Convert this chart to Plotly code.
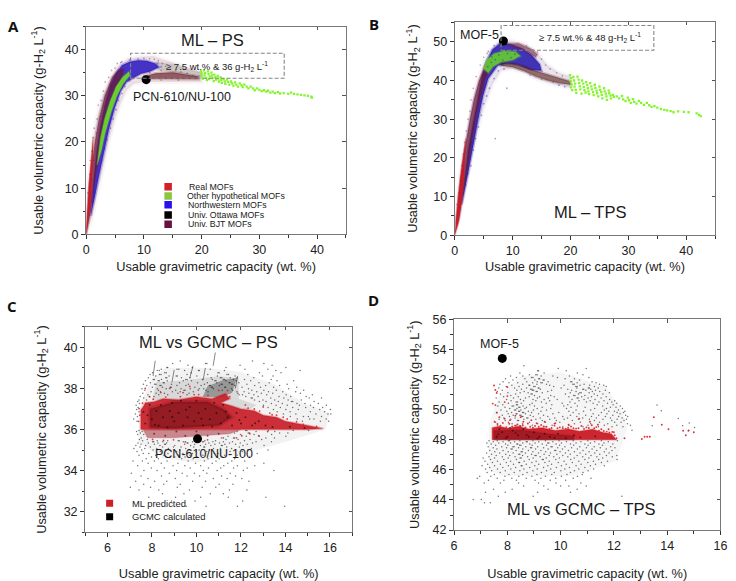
import plotly.graph_objects as go

W, H = 736, 581
# ---------- panel A: band outlines (wt.%, g/L)
a_halo = [(0,0),(0.1,5),(0.3,10),(0.7,15),(1.1,20),(1.8,25),(2.8,30),(4.2,34),(5.6,36.6),(7.2,38),(9,38.4),(11.5,38.6),(14,37.6),(17,36.3),(20,35.2),(20,33),(14,33.1),(10,33),(8.2,32.6),(7,31.2),(6,28.5),(5,25),(4,20.5),(3,15),(2,9.5),(1.1,4),(0,0)]
a_maroon = [(0,0),(0.2,4),(0.5,10),(1,15),(1.5,20),(2.2,25),(3.2,30),(4.5,34),(5.6,35.6),(6.5,35.8),(6.2,34),(5.4,32),(4.4,29),(3.5,25),(2.8,21),(2.1,16),(1.4,11),(0.8,5),(0,0)]
a_blue = [(0.8,4),(1.1,9),(1.4,13),(1.8,18),(2.4,23),(3.2,28),(4.2,32.4),(5.2,35),(6.2,36.6),(7.5,37.4),(9,37.7),(10.5,37.6),(12,37),(12.6,36.2),(11,35.2),(9.5,34.8),(8.3,33.9),(7,33),(6,31),(5,27.5),(4,23),(3,17.5),(2.2,12.5),(1.5,8)]
a_green = [(1.9,15),(2.5,21),(3.2,25),(4.2,29),(5.2,32),(6.3,34),(7.4,35.2),(7.6,34.5),(6.4,32.6),(5.3,29.9),(4.3,26.4),(3.3,22),(2.6,18)]
a_red = [(0,0),(0.2,5),(0.5,11),(0.85,16),(1.2,21),(1.15,16),(1,12),(0.7,6),(0,0)]
a_tail_dark = [(10,34.2),(12,34.9),(15,35.1),(17,34.7),(19.5,34.2),(19.5,33.6),(15,33.6),(11,33.7),(9.5,33.7)]
a_top_grey = [(12,37.4),(15,36.8),(18,35.6),(20,35),(20,34),(16,35),(12.5,35.6)]
a_green_tail = [(19.9,35.3),(20.1,34.8),(20.0,34.2),(20.2,33.7),(20.4,35.5),(20.6,34.9),(20.5,34.4),(20.8,33.9),(20.9,33.4),(21.1,35.3),(21.2,34.7),(21.4,34.2),(21.3,33.6),(21.7,35.0),(21.8,34.4),(21.9,33.8),(22.1,33.2),(22.2,34.6),(22.4,34.1),(22.5,33.5),(22.8,34.3),(22.9,33.7),(23.0,33.1),(23.3,34.0),(23.4,33.4),(23.5,32.8),(23.8,33.6),(24.0,33.1),(24.1,32.6),(24.4,33.5),(24.6,33.0),(24.8,32.4),(25.1,33.1),(25.3,32.7),(25.5,32.2),(25.8,32.9),(26.0,32.4),(26.3,32.0),(26.6,32.7),(26.9,32.3),(27.1,31.9),(27.4,32.4),(27.8,32.0),(28.1,31.6),(28.5,32.0),(28.9,31.6),(29.2,31.2),(29.6,31.6),(30.0,31.3),(30.4,31.0),(30.8,31.2),(31.2,30.9),(31.5,31.1),(31.9,30.7),(32.3,30.9),(32.7,30.6),(33.2,30.8),(33.6,30.5),(34.2,30.6),(35.0,30.4),(35.5,30.7),(36.0,30.4),(36.6,30.3),(37.2,30.2),(37.8,30.1),(38.4,30.0),(39.0,29.8),(39.1,29.6)]
a_maroon_dots = [(0.3,9),(0.6,13),(0.7,16),(1,18),(1.2,21),(1.4,23),(1.9,25),(2.1,28),(2.6,29),(3,31),(3.3,33),(3.9,34),(4.4,35.5),(5,36),(5.4,37),(6.2,37.4),(11,38),(11.8,37.9),(12.5,37.6),(13.2,37),(13.8,36.4),(14.6,35.8),(15.5,35.5),(16.4,35.2),(17.5,34.9),(18.5,34.4),(13,35.5),(11,35),(10,34.4),(16,33.4),(13,33.4),(1.8,22),(2.5,25.5),(1.3,16),(0.9,12)]
a_blue_dots = [(1.5,9),(1.9,12),(2.3,14),(2.7,16),(3.2,18.5),(3.6,20.5),(4.2,23),(4.7,25),(5.2,27),(5.6,29),(6.2,30.5),(6.7,32),(1.2,7),(7.5,33.2),(6,37.2),(7.5,37.8),(9,38),(10,38.1),(12.4,37),(13,36.3)]

# ---------- panel B
b_halo = [(0,0),(0.2,5),(0.5,10),(0.9,15),(1.3,20),(1.9,25),(2.5,30),(3.1,35),(4,40),(5,44.5),(6.2,48),(7.8,50.5),(10,50.2),(12,49.5),(14,47.5),(16,44),(18,42),(20,41),(20,38),(17,39),(14,40.5),(12,42),(10,43),(8,42.6),(6.5,39),(5,33),(4,27.5),(3,20.5),(2,13),(1.2,7),(0.5,3),(0,0)]
b_maroon = [(0.2,3),(0.6,10),(1,15),(1.45,20),(2,25),(2.6,30),(3.3,35),(4.2,40),(5.3,44),(6.3,46),(6,43.5),(5.2,40),(4.3,35),(3.6,30),(2.9,24),(2.1,17),(1.3,10),(0.7,4)]
b_blue = [(1.2,8),(1.8,16),(2.3,22),(2.9,27),(3.5,32),(4.1,37),(4.7,41),(5.5,45),(6.5,48),(7.8,49.6),(9.5,49.4),(11.5,48.4),(13.3,46.6),(14.7,44.2),(15,42.5),(13,42.8),(11,44),(9,44.4),(7.4,43.8),(5.8,40.5),(4.9,36),(4,29.5),(3,21),(2.3,16)]
b_green = [(5,43),(5.6,45.4),(6.8,46.9),(8.5,47.6),(10.5,47.4),(11.3,46.3),(10,45.3),(8,44.8),(6.6,43.6),(5.8,42)]
b_brown = [(10,44.4),(12,43.7),(14,42.5),(16,41.6),(18,40.7),(20,39.8),(20,38.9),(18,39.3),(16,40),(14,41),(12,42.4),(10,43.4),(8,43.8),(8,44.6)]
b_streak = [(9,49.5),(11,49.6),(13,48.3),(14.3,46.8),(14,46),(12,47.8),(10,48.7)]
b_red = [(0,0),(0.25,5),(0.6,10),(1,15),(1.35,19),(1.9,25),(1.7,19),(1.5,14),(1.1,8),(0.6,3),(0,0)]
b_green_tail = [(19.9,41.4),(20.1,40.6),(20.0,39.8),(20.2,39),(20.1,38.2),(20.3,37.5),(20.5,40.9),(20.6,40),(20.8,39.2),(20.7,38.4),(20.9,37.6),(21,36.8),(21.2,41),(21.4,40.2),(21.5,39.3),(21.6,38.5),(21.7,37.7),(21.9,36.6),(22,40),(22.2,39.2),(22.3,38.3),(22.4,37.5),(22.6,36.9),(22.7,39.6),(22.9,38.8),(23,38),(23.1,37.2),(23.2,36.5),(23.4,39.3),(23.6,38.5),(23.7,37.7),(23.9,37),(24,36.2),(24.2,38.9),(24.3,38.1),(24.5,37.4),(24.6,36.7),(24.8,35.9),(25,38.4),(25.1,37.6),(25.3,37),(25.4,36.3),(25.5,35.4),(25.8,38),(25.9,37.2),(26.1,36.6),(26.2,35.9),(26.3,35),(26.6,37.4),(26.7,36.7),(26.9,36.1),(27,35.4),(27.3,36.3),(27.5,35.8),(28,35.9),(28.4,35.4),(28.9,36),(29.1,35.1),(29.5,34.7),(29.9,35.6),(30.1,34.9),(30.4,34.2),(30.8,35.2),(31,34.5),(31.4,34),(31.8,34.7),(32.2,34.2),(32.7,33.7),(33.2,34.2),(33.6,33.6),(34,33.2),(34.5,33.4),(35,33),(35.6,32.6),(36.2,32.4),(36.7,32.3),(37.3,32.1),(37.8,31.8),(38.6,32),(39.6,31.9),(40.4,31.8),(41.8,31.5),(42.2,31.1),(42.5,30.8)]
b_maroon_dots = [(0.4,8),(0.7,11),(1,14),(1.2,18),(1.5,21),(1.7,24),(2,27),(2.3,30),(2.6,32),(2.8,35),(3.2,38),(3.7,41),(4.4,44),(5,46),(5.6,47),(12.4,49),(13.5,48),(14.3,47.4),(15,45.5),(15.7,44),(16.5,43),(17.6,42),(18.6,41.2),(13,41.4),(15,40.3),(17,39.6)]
b_blue_dots = [(1.9,13),(2.3,16),(2.8,18),(3.2,22),(3.6,25),(4.1,28),(4.6,31),(5,34),(5.5,36),(6,38),(6.8,40.5),(7.5,42.5),(8.5,43),(9,50.6),(6.8,49),(5.8,47.5),(19,38.4),(18,38.8),(7,25),(9,38),(5.7,43.6),(6.3,44.7),(7,45.4),(7.6,46.6),(8.3,45.2),(9.1,47),(9.7,45.9),(10.4,46.8),(10.9,45.7),(6.4,46.1)]

# ---------- panel C (clumpy cloud, y then x values at that y)
c_haze = [(7.4,35.4),(7.4,37),(8,38.5),(8.6,39),(10.5,39),(12,38.8),(13.5,38.2),(14.8,37.3),(16,36.8),(15.8,36),(14,35.4),(12,34.8),(10,34.4),(8.5,34.6)]
c_dense = [(8,37.4),(8.2,38.3),(9.5,38.4),(11,38.6),(11.9,38.5),(11.9,37.5),(12.7,37.2),(12,36.7),(9,37.4)]
c_clump = [(10.3,37.6),(10.5,38.1),(11.2,38.4),(11.8,38.5),(11.6,37.8),(11.2,37.6)]
c_red = [(7.5,36),(7.5,36.95),(7.6,37.1),(7.7,37.3),(8.1,37.35),(8.5,37.5),(9.2,37.45),(10,37.6),(10.7,37.5),(11.3,37.75),(11.5,37.5),(11.1,37.3),(11.6,37.15),(12,37),(12.6,36.92),(13,36.7),(13.6,36.6),(14,36.4),(15,36.2),(15.7,36.05),(15,36),(12,36),(7.5,36)]
c_red_low = [(7.6,36),(12,36),(11.5,35.8),(9,35.6),(7.8,35.6)]
c_dark = [(7.9,36.1),(7.9,37),(9,37.35),(10.5,37.35),(11.2,37),(11.6,36.6),(11,36.2),(9,36.05)]
c_streaks_x = [8.05,8.15,None,10.75,10.85,None,11.75,11.85,None,8.9,9,None,9.7,9.85,None,10.3,10.4]
c_streaks_y = [38.6,39.35,None,39.1,39.75,None,38,38.6,None,38.3,38.9,None,38.5,39.1,None,38.4,39]
c_rows = {
 39.34:[9.27,12.52], 39.21:[8.93,10.41,10.47,13.03], 39.13:[9.62,11.96,13.4], 39.02:[8.67,8.71,9.81,11.33,14.02], 38.93:[8.42,9.13,9.21,10.62,12.18,13.21],
 38.87:[8.24,8.33,9.47,10.09,10.13,11.26,13.57,14.66], 38.76:[8.03,8.58,8.64,9.76,10.97,11.02,12.83,13.8], 38.68:[7.92,8.34,8.41,9.58,10.51,11.37,11.44,12.31],
 38.61:[8.17,8.77,9.09,9.14,10.02,10.94,11.74,12.97,13.44], 38.52:[7.84,8.62,8.67,9.33,9.71,10.66,11.08,11.14,11.52,11.83,12.58], 38.44:[8.06,8.11,8.43,9.52,9.58,10.27,10.71,11.21,11.27,11.66,12.16,13.36],
 38.37:[7.71,8.28,8.33,8.69,9.41,9.78,10.83,10.88,11.33,11.79,12.44,13.62,14.37], 38.28:[7.93,8.51,8.55,9.24,10.05,10.49,10.92,11.47,11.51,11.91,12.81,13.27],
 38.21:[7.62,8.12,8.18,8.88,9.64,10.36,11.11,11.16,11.58,11.63,12.27,14.08], 38.14:[7.77,8.36,8.41,9.12,9.53,10.21,10.58,10.63,11.03,11.72,12.62,13.11,13.74],
 38.06:[8.02,8.47,8.83,8.87,9.93,10.67,10.72,11.27,11.31,12.05,12.88,13.47,14.51], 37.98:[7.55,8.24,8.64,9.31,9.72,10.12,10.33,10.76,11.58,12.34,14.15],
 37.91:[7.68,8.29,9.07,9.44,9.49,10.08,10.43,11.16,11.63,12.49,13.03,13.59,14.82], 37.84:[7.96,8.38,8.92,9.27,9.86,10.52,11.82,12.14,12.71,13.24,13.88,14.46],
 37.77:[7.59,8.19,8.56,9.17,9.67,11.86,12.36,12.92,13.43,14.67], 37.69:[7.82,8.31,8.71,9.58,11.92,12.07,12.58,13.16,14.03,15.21], 37.61:[7.47,7.88,8.09,12.22,12.77,13.71,14.24,14.93],
 37.53:[7.63,12.46,12.51,13.34,13.93,15.07,15.62], 37.44:[7.42,7.76,12.61,12.99,13.52,14.12,14.71], 37.36:[7.36,12.83,13.13,13.68,14.27,14.33,15.29],
 37.27:[7.44,13.37,13.86,14.52,14.88,15.48], 37.18:[7.29,13.01,13.58,14.08,14.63,15.13,15.84], 37.07:[7.38,13.22,13.77,14.33,14.91,15.26,15.67], 36.98:[7.31,13.46,14.02,14.58,15.54,16.02],
 36.87:[7.42,13.63,14.21,15.12,15.76], 36.76:[7.26,13.91,14.47,15.37,15.91,16.04], 36.64:[7.35,14.22,14.81,15.03,15.62], 36.52:[7.18,14.53,15.09,15.28,15.83], 36.41:[7.33,14.76,15.57,15.94],
 35.96:[7.42,12.21,12.27,13.23,14.35,15.04], 35.91:[7.31,7.56,11.83,12.68,13.52], 35.83:[7.48,11.71,12.33,12.38,13.74,14.11], 35.76:[7.36,7.63,11.98,12.59,13.38],
 35.68:[11.42,12.24,12.82,14.02], 35.59:[7.52,11.12,11.67,11.71,13.12,13.51], 35.52:[7.44,7.79,11.33,11.87,12.41,12.93], 35.46:[7.58,8.24,8.71,9.18,9.23,10.38,10.86,12.16],
 35.41:[8.03,8.08,8.49,9.41,9.83,10.27,10.32,10.74,11.21,11.62,12.68,13.37], 35.35:[7.37,7.84,8.27,8.66,9.58,9.62,10.56,11.04,11.49,11.97,12.52], 35.28:[7.51,8.11,8.57,8.61,9.47,9.92,10.41,10.83,11.28,11.76,12.28],
 35.22:[7.28,7.72,8.36,9.03,9.74,10.18,10.65,11.12,11.16,12.09,13.04], 35.15:[7.46,7.93,8.48,8.97,9.31,9.88,10.33,10.37,11.36,11.93], 35.08:[7.19,7.68,8.22,8.74,9.52,10.77,11.08,11.58,12.47],
 35.01:[7.54,8.05,8.61,9.26,9.67,10.12,10.59,12.31,13.22], 34.93:[7.33,8.38,8.87,9.11,9.99,10.46,11.51,12.06], 34.84:[7.61,7.86,8.72,9.39,9.82,10.81,10.97,12.73], 34.75:[7.42,8.17,8.54,9.22,9.71,10.29,11.27,11.83],
 34.66:[7.98,8.83,9.03,9.49,10.04,10.68,11.16,12.38], 34.58:[7.74,8.29,9.34,9.86,10.52,11.02,11.72], 34.47:[7.15,7.57,8.11,8.68,9.63,10.36,10.88,11.59,12.17], 34.36:[7.83,8.42,9.17,9.96,10.71,11.41,13.03],
 34.24:[7.36,8.95,9.48,10.19,11.23,11.84,12.62], 34.13:[7.97,8.56,9.72,10.54,11.09,11.67,12.28], 34.01:[7.64,8.23,9.11,10.31,10.93,12.11,13.48], 33.88:[7.08,8.78,9.36,9.91,10.47,11.52], 33.74:[7.51,8.43,9.58,10.14,11.13,11.76],
 33.62:[7.82,9.05,10.76,11.38,12.04], 33.48:[7.27,8.12,8.67,9.83,10.41,12.36], 33.34:[7.63,8.53,9.27,11.02,11.64], 33.19:[7.03,7.94,9.14,10.26,10.87], 33.06:[7.42,8.31,9.69,11.48,12.27],
 32.88:[8.47,9.44,10.62,11.21], 32.71:[7.86,9.06,10.19,11.43,13.12], 32.53:[8.88,9.94,12.08], 32.27:[9.54,10.43,11.84,13.97],
}
c_black_on_red = [(7.7,36.3),(7.8,36.7),(8,36.5),(8.2,36.9),(8.3,36.2),(8.4,37.2),(8.5,36.6),(8.7,36.1),(8.8,36.9),(8.9,37.3),(9,36.4),(9.2,36.8),(9.3,37.4),(9.4,36.2),(9.6,36.6),(9.7,37.1),(9.9,36.4),(10,37.4),(10.1,36.8),(10.3,36.2),(10.4,37),(10.6,36.5),(10.8,37.3),(10.9,36.8),(11.1,36.3),(11.2,37.2),(11.4,36.6),(11.6,36.2),(11.8,36.8),(12,36.3),(12.2,36.6),(12.5,36.2),(12.8,36.4),(13.1,36.2),(7.9,37.2),(8.1,35.8),(8.6,35.7),(9.1,35.9),(9.5,35.7),(10,35.9),(10.5,35.7),(11,35.8),(7.62,36.86),(8.13,36.24),(8.91,36.61),(9.53,36.97),(10.22,36.53),(10.71,36.14),(11.32,36.88),(11.93,36.47),(12.64,36.31),(13.42,36.13),(14.2,36.14),(14.86,36.08)]
c_red_dots = [(7.7,38),(7.9,37.6),(8.4,37.8),(8.8,38),(9.4,37.8),(9.7,38.1),(10.1,37.7),(11,37.9),(11.4,37.9),(11.5,37.6),(12.2,37.2),(12.6,37),(13,37.1),(13.3,36.8),(13.6,36.7),(13.9,36.6),(14.3,36.3),(12.4,35.8),(12.8,35.7),(13.2,35.9),(9.5,35.4),(10.5,35.5),(7.4,36.4),(11.8,35.6),(14.8,36.25),(15.4,36.15),(8.03,35.52),(8.52,35.47),(8.97,35.5),(11.21,35.6),(9.92,35.45),(12.04,35.7),(7.46,36.7),(7.42,37.02),(7.58,37.28),(8.06,37.48),(8.62,37.58),(9.28,37.6),(9.9,37.7),(10.52,37.66),(12.32,37.04),(12.84,36.9),(13.4,36.72),(14.08,36.52),(14.5,36.38)]

# ---------- panel D
d_haze = [(7.3,46),(7.3,49),(7.7,51),(8.5,52.2),(10,52.5),(11.7,51.5),(12.3,50),(12.5,48.8),(12.1,46.6),(10.5,45.6),(9,45.6),(7.8,45.6)]
d_red = [(7.43,48),(7.43,48.8),(7.7,48.9),(8,48.76),(8.4,48.9),(8.8,48.72),(9.3,48.8),(9.8,48.62),(10.3,48.72),(10.7,48.56),(11.2,48.7),(11.6,48.48),(11.9,48.4),(12.1,48)]
d_dark = [(7.5,48),(7.5,48.6),(8.5,48.65),(9.5,48.4),(10.5,48.25),(10.5,48)]
d_rows = {
 52.91:[8.62], 52.74:[9.91,10.96], 52.58:[9.14,9.17,10.21], 52.44:[8.47,9.38,10.63], 52.31:[8.83,9.07,9.12,10.84], 52.23:[8.12,8.58,9.27,9.71,10.33], 52.14:[8.34,8.91,8.96,9.88,11.06],
 52.05:[7.93,8.66,9.18,9.21,10.17,10.52], 51.97:[8.21,9.03,9.34,9.38,10.71], 51.86:[7.84,8.73,9.12,9.53,10.38,10.42,11.18], 51.78:[8.06,8.39,8.95,9.26,9.31,10.62,11.33],
 51.69:[7.72,8.58,9.11,9.47,10.46,10.51,10.88,11.46], 51.62:[8.17,8.81,8.84,9.59,10.13,10.73,11.09,11.62], 51.53:[7.96,8.44,8.99,9.04,9.74,10.57,10.62,11.27,11.71],
 51.44:[7.68,8.27,8.72,9.16,9.19,10.02,10.61,11.04,11.08,11.41], 51.36:[8.53,8.87,8.92,9.24,10.27,10.83,10.87,11.13], 51.28:[7.81,8.36,8.94,8.99,9.66,10.41,10.95,11.31,11.68],
 51.21:[7.62,8.63,9.08,9.12,9.52,10.58,11.19,11.47], 51.12:[8.02,8.48,8.78,9.31,10.36,10.72,10.77,11.07,11.83], 51.03:[7.74,8.31,8.89,8.93,10.18,10.67,11.26,11.59],
 50.94:[8.13,9.02,9.63,10.49,10.54,10.91,11.38], 50.85:[7.86,8.41,8.82,9.21,9.76,10.31,10.79,11.16,11.71], 50.77:[7.58,8.23,8.68,9.13,9.54,10.62,10.66,11.03,11.52],
 50.68:[7.97,8.49,8.96,9.38,9.87,10.43,10.88,11.29,11.84], 50.59:[8.14,8.61,9.07,9.59,10.69,11.11,11.63,12.03], 50.51:[7.69,8.33,8.38,9.28,10.35,10.97,11.44,11.92],
 50.42:[8.04,8.52,8.93,9.46,10.06,10.54,11.22,11.76,12.11], 50.33:[7.83,8.34,8.38,8.84,9.67,10.27,11.37,11.97], 50.24:[7.64,8.18,8.23,8.59,9.02,10.12,10.63,11.58,12.24],
 50.16:[7.91,8.43,8.47,8.72,9.31,10.39,10.92,11.87,12.08], 50.07:[8.09,8.36,8.66,9.12,9.63,10.22,11.28,11.72,12.32], 49.98:[7.76,8.27,8.31,8.51,8.98,9.47,10.58,11.13,11.64,12.17],
 49.89:[7.98,8.42,8.46,8.79,9.26,10.31,10.86,11.81,12.02,12.41], 49.81:[7.61,8.16,8.57,8.61,8.91,9.93,10.47,11.53,12.12,12.36], 49.72:[8.03,8.33,8.36,8.68,9.17,9.71,10.69,11.22,11.74,12.23],
 49.63:[7.81,8.22,8.47,8.51,8.86,9.36,10.37,10.94,11.43,11.96,12.44], 49.54:[8.08,8.54,8.58,8.97,9.52,10.08,10.61,11.16,11.68,12.18,12.52], 49.45:[7.87,8.29,8.73,8.77,9.23,9.78,10.26,10.83,11.34,11.87,12.31],
 49.36:[7.69,8.13,8.62,9.07,9.59,10.13,10.67,11.08,11.59,12.12,12.47], 49.27:[7.92,8.38,8.42,9.31,9.84,10.44,11.27,11.92,12.38], 49.16:[7.56,8.04,8.83,9.43,9.97,10.74,11.46,12.03,12.27], 49.07:[8.18,8.57,9.14,9.76,10.52,11.13,11.77,12.51],
 48.97:[7.63,8.33,8.94,9.68,10.31,11.03,11.64,12.11,12.62], 48.87:[9.41,10.08,10.84,11.42,11.93,12.34],
 47.94:[7.31,7.62,8.04,8.08,8.47,8.96,9.43,9.94,10.47,11.02,11.53,12.13], 47.86:[7.47,7.84,8.27,8.71,8.75,9.18,9.71,10.22,10.76,11.28,11.79], 47.79:[7.23,7.68,8.12,8.58,9.04,9.52,9.56,10.03,10.58,11.12,11.63],
 47.71:[7.39,7.93,8.36,8.39,8.84,9.31,9.83,10.37,10.91,11.44,11.96], 47.63:[7.56,8.02,8.46,8.51,8.93,9.47,9.96,10.49,11.03,11.57], 47.54:[7.28,7.79,8.21,8.25,8.69,9.14,9.64,9.68,10.16,10.72,11.26,11.88],
 47.47:[7.47,7.97,8.42,8.87,8.91,9.36,9.89,10.41,10.97,11.49,12.04], 47.38:[7.61,8.14,8.18,8.58,9.06,9.53,10.07,10.63,11.18,11.71], 47.29:[7.34,7.84,8.33,8.79,9.26,9.78,9.82,10.29,10.84,11.36,11.93],
 47.21:[7.53,8.03,8.52,8.56,8.96,9.44,9.98,10.52,11.07,11.64], 47.12:[7.22,7.71,8.22,8.68,9.17,9.62,10.18,10.73,11.28,11.82], 47.04:[7.41,7.94,8.43,8.47,8.91,9.38,9.86,10.36,10.94,11.47],
 46.95:[7.58,8.09,8.57,9.04,9.08,9.57,10.08,10.62,11.14,11.72,12.11], 46.87:[7.31,7.81,8.29,8.76,9.23,9.74,10.27,10.83,11.36,11.94], 46.78:[7.09,7.52,8.03,8.48,8.52,8.97,9.46,9.95,10.51,11.06,11.58],
 46.69:[7.37,7.87,8.34,8.82,9.31,9.35,9.82,10.38,10.91,11.43,12.12], 46.58:[7.16,7.63,8.12,8.63,9.08,9.57,10.13,10.68,11.23,11.76], 46.49:[7.44,7.96,8.43,8.46,8.92,9.41,9.91,10.44,11.02,11.53],
 46.38:[7.26,7.74,8.23,8.71,9.18,9.66,10.21,10.77,11.31], 46.27:[7.05,7.52,8.04,8.52,8.55,9.03,9.52,10.03,10.58,11.12,11.64], 46.16:[7.34,7.83,8.31,8.84,9.36,9.84,10.33,10.91],
 46.05:[7.18,7.63,8.13,8.62,9.12,9.63,10.16,10.68,11.24], 45.94:[7.41,7.92,8.47,8.96,9.47,10.01,10.52,11.03], 45.82:[7.24,7.73,8.26,8.74,9.28,9.76,10.37,10.84],
 45.69:[7.51,8.06,8.58,9.11,9.67,10.24,10.81], 45.57:[6.96,7.38,7.91,8.43,8.92,9.43,10.03,10.63], 45.44:[6.87,7.62,8.17,8.71,9.26,9.82,10.47,11.14], 45.31:[7.29,7.87,8.34,9.04,9.61,10.19],
 45.13:[7.13,7.74,8.42,9.17,9.83,10.76], 44.92:[8.61,9.37,10,10.31,10.96], 44.71:[7.48,8.18,9.53,10.62], 44.52:[7.18,7.92,9.14,10.37], 44.24:[7.66,8.97,12.3], 44.03:[6.72,7.02], 43.81:[7.14,7.36],
 50.31:[13.62], 49.92:[13.78], 49.41:[14.42], 49.12:[14.83], 48.93:[13.44,14.58], 48.82:[15.03], 48.63:[14.81,12.68],
}
d_black_on_red = [(7.6,48.2),(7.8,48.5),(8,48.2),(8.2,48.6),(8.4,48.3),(8.6,48.7),(8.8,48.2),(9,48.5),(9.2,48.2),(9.4,48.4),(9.6,48.2),(9.9,48.4),(10.2,48.1),(10.5,48.3),(7.7,48.7),(8.1,48.8),(8.5,48.9),(7.66,48.36),(7.94,48.11),(8.31,48.44),(8.72,48.33),(9.13,48.08),(9.77,48.13),(10.74,48.16),(11.3,48.23)]
d_red_dots = [(7.5,51.6),(7.55,51.3),(7.6,51.1),(8,51.5),(8,50.9),(7.45,50.4),(7.55,50.3),(7.9,50.5),(7.6,49.8),(7.7,49.5),(7.9,49.4),(8.1,49.3),(8.3,49.6),(8.5,49.5),(8.6,49.2),(8.9,49.3),(9.1,49.1),(9.4,49.2),(9.8,49.1),(10.3,49),(10.7,49.4),(11.1,49.2),(11.4,49),(11.8,48.7),(12,48.5),(12.1,48.1),(12.4,48.1),(11.9,48.2),(13.05,48.05),(13.15,48.2),(13.25,48.2),(13.35,48.2),(13.5,49.5),(13.8,49),(14.05,48.7),(14.6,48.6),(14.7,48.3),(14.8,48.6),(15,48.5),
 (7.52,49.2),(7.63,49.05),(7.74,48.94),(7.83,49.12),(7.96,48.84),(8.07,49.06),(8.18,48.88),(8.29,48.94),(8.38,49.02),(8.47,48.92),(8.58,48.96),(8.68,48.82),(8.77,49.08),(8.86,48.86),(8.96,48.8),(9.04,48.92),(9.18,48.86),(9.27,48.98),(9.36,48.88),(9.47,48.86),(9.58,48.72),(9.66,48.78),(9.77,48.94),(9.88,48.76),(9.97,48.82),(10.08,48.76),(10.19,48.74),(10.28,48.8),(10.39,48.88),(10.48,48.76),(10.58,48.74),(10.67,48.76),(10.78,48.92),(10.88,48.72),(10.97,48.82),(11.06,48.78),(11.17,48.96),(11.26,48.76),(11.34,48.84),(11.44,48.6),(11.53,48.7),(11.62,48.58),(11.73,48.54),(11.83,48.48),(11.94,48.52),(12.03,48.3)]

# ---------- shared labels
x_title = "Usable gravimetric capacity (wt. %)"
y_title = "Usable volumetric capacity (g-H<sub>2</sub> L<sup>-1</sup>)"
legend_names_a = ["Real MOFs","Other hypothetical MOFs","Northwestern MOFs","Univ. Ottawa MOFs","Univ. BJT MOFs"]
legend_y_a = [10.3,8.3,6.4,4.2,2.2]
legend_colors_a = ["#d2202a","#8cc63f","#2a10f0","#000000","#6a1040"]
legend_names_c = ["ML predicted","GCMC calculated"]
legend_y_c = [32.42,31.76]
legend_colors_c = ["#cc1f26","#000000"]

FONT = "Liberation Sans"
TXT = "#222222"
fig = go.Figure()

def px_dom(a, b, total):
    return [a/total, b/total]

def pdom(top, bottom):
    return [1-bottom/H, 1-top/H]

def rows_to_pts(rows):
    return [(x, y) for y, xs in rows.items() for x in xs]

panels = [
 dict(n=1, xd=(84.3,347.7), yd=(20,233), xr=[0,45], yr=[0,45], xt=[0,10,20,30,40], yt=[0,10,20,30,40], xm=5, ym=5, xs=5, ys=18),
 dict(n=2, xd=(458,722), yd=(15,234), xr=[0,45], yr=[0,55.2], xt=[0,10,20,30,40], yt=[0,10,20,30,40,50], xm=5, ym=5, xs=4, ys=12),
 dict(n=3, xd=(83.3,354), yd=(327.7,538.3), xr=[5,17], yr=[31,41], xt=[6,8,10,12,14,16], yt=[32,34,36,38,40], xm=1, ym=1, xs=14, ys=14),
 dict(n=4, xd=(457.3,727.3), yd=(320,536), xr=[6,16], yr=[42,56], xt=[6,8,10,12,14,16], yt=[42,44,46,48,50,52,54,56], xm=1, ym=1, xs=18, ys=10),
]
layout = {}
for p in panels:
    n = p["n"]
    suf = "" if n == 1 else str(n)
    common = dict(showgrid=False, zeroline=False, showline=True, linecolor="#777777", linewidth=1.2, mirror=True,
                  ticks="outside", ticklen=4, tickwidth=1, tickcolor="#333333",
                  tickfont=dict(family=FONT, size=12.5, color=TXT))
    layout["xaxis"+suf] = dict(common, domain=px_dom(*p["xd"], W), range=p["xr"], tickmode="array", tickvals=p["xt"],
        anchor="y"+suf, minor=dict(dtick=p["xm"], ticks="outside", ticklen=2.5, tickcolor="#333333", showgrid=False),
        title=dict(text=x_title, font=dict(family=FONT, size=12.8, color=TXT), standoff=p["xs"]))
    layout["yaxis"+suf] = dict(common, domain=pdom(*p["yd"]), range=p["yr"], tickmode="array", tickvals=p["yt"],
        anchor="x"+suf, minor=dict(dtick=p["ym"], ticks="outside", ticklen=2.5, tickcolor="#333333", showgrid=False),
        title=dict(text=y_title, font=dict(family=FONT, size=12.8, color=TXT), standoff=p["ys"]))
    # inward ticks on the top and right edges
    ox, oy = "xaxis%d" % (n+4), "yaxis%d" % (n+4)
    layout[ox] = dict(overlaying="x"+suf, side="top", range=p["xr"], domain=px_dom(*p["xd"], W), anchor="y%d" % (n+4),
        showgrid=False, zeroline=False, showticklabels=False, ticks="inside", ticklen=3.5, tickcolor="#555555",
        tickmode="array", tickvals=p["xt"])
    layout[oy] = dict(overlaying="y"+suf, side="right", range=p["yr"], domain=pdom(*p["yd"]), anchor="x%d" % (n+4),
        showgrid=False, zeroline=False, showticklabels=False, ticks="inside", ticklen=3.5, tickcolor="#555555",
        tickmode="array", tickvals=p["yt"])
    fig.add_trace(go.Scatter(x=[None], y=[None], xaxis="x%d" % (n+4), yaxis="y%d" % (n+4), showlegend=False, hoverinfo="skip"))

def axes(n):
    return ("x" if n == 1 else "x%d" % n, "y" if n == 1 else "y%d" % n)

def poly(n, pts, rgb, alpha, name, edge=2.5):
    x, y = zip(*pts)
    xa, ya = axes(n)
    fig.add_trace(go.Scatter(x=list(x)+[x[0]], y=list(y)+[y[0]], xaxis=xa, yaxis=ya, mode="lines", fill="toself",
                             fillcolor="rgba(%s,%s)" % (rgb, alpha), line=dict(width=edge, color="rgba(%s,%s)" % (rgb, round(alpha*0.35, 3))),
                             name=name, showlegend=False, hoverinfo="skip"))

def dots(n, pts, color, size, name, symbol="circle"):
    x, y = zip(*pts)
    xa, ya = axes(n)
    fig.add_trace(go.Scatter(x=x, y=y, xaxis=xa, yaxis=ya, mode="markers", name=name, showlegend=False,
                             marker=dict(color=color, size=size, symbol=symbol, line=dict(width=0))))

# A
poly(1, a_halo, "170,120,130", 0.2, "halo", 4)
poly(1, a_top_grey, "120,120,110", 0.28, "grey")
poly(1, a_blue, "40,20,190", 0.85, "Northwestern MOFs")
poly(1, a_maroon, "105,25,55", 0.72, "Univ. BJT MOFs")
poly(1, a_tail_dark, "105,25,35", 0.68, "Univ. BJT MOFs")
poly(1, a_green, "105,215,40", 0.95, "Other hypothetical MOFs", 1.5)
poly(1, a_red, "205,25,35", 0.95, "Real MOFs", 1.5)
dots(1, a_maroon_dots, "rgba(110,30,60,0.4)", 1.7, "Univ. BJT MOFs")
dots(1, a_blue_dots, "rgba(50,30,220,0.45)", 1.7, "Northwestern MOFs")
dots(1, a_green_tail, "#84f52a", 2.3, "Other hypothetical MOFs", "square")
dots(1, [(10.4,33.5)], "#000000", 9, "PCN-610/NU-100")
for yv, c in zip(legend_y_a, legend_colors_a):
    dots(1, [(14.2,yv)], c, 7.5, "legend", "square")
# B
poly(2, b_halo, "150,120,170", 0.2, "halo", 4)
poly(2, b_blue, "35,20,170", 0.85, "Northwestern MOFs")
poly(2, b_maroon, "105,25,55", 0.72, "Univ. BJT MOFs")
poly(2, b_streak, "110,30,50", 0.55, "Univ. BJT MOFs")
poly(2, b_brown, "85,30,25", 0.6, "Univ. BJT MOFs")
poly(2, b_green, "100,205,45", 0.9, "Other hypothetical MOFs")
poly(2, b_red, "205,25,35", 0.95, "Real MOFs", 1.5)
dots(2, b_maroon_dots, "rgba(120,30,60,0.4)", 1.7, "Univ. BJT MOFs")
dots(2, b_blue_dots, "rgba(40,40,200,0.45)", 1.8, "Northwestern MOFs")
dots(2, b_green_tail, "#84f52a", 2.3, "Other hypothetical MOFs", "square")
dots(2, [(8.4,50.2)], "#000000", 9, "MOF-5")
# C
poly(3, c_haze, "0,0,0", 0.05, "GCMC calculated", 0)
poly(3, c_dense, "0,0,0", 0.1, "GCMC calculated", 0)
poly(3, c_clump, "0,0,0", 0.3, "GCMC calculated", 1)
dots(3, rows_to_pts(c_rows), "rgba(0,0,0,0.55)", 1.5, "GCMC calculated")
fig.add_trace(go.Scatter(x=c_streaks_x, y=c_streaks_y, xaxis="x3", yaxis="y3", mode="lines", showlegend=False,
                         line=dict(color="rgba(30,30,30,0.6)", width=0.9), name="GCMC calculated"))
poly(3, c_red_low, "170,50,60", 0.55, "ML predicted", 1.5)
poly(3, c_red, "200,25,35", 0.9, "ML predicted", 2)
poly(3, c_dark, "70,0,5", 0.4, "ML predicted", 4)
dots(3, c_black_on_red, "rgba(0,0,0,0.55)", 2, "GCMC calculated")
dots(3, c_red_dots, "rgba(225,25,35,0.85)", 1.8, "ML predicted")
dots(3, [(10.05,35.55)], "#000000", 9, "PCN-610/NU-100")
for yv, c in zip(legend_y_c, legend_colors_c):
    dots(3, [(6.1,yv)], c, 7, "legend", "square")
# D
poly(4, d_haze, "0,0,0", 0.04, "GCMC calculated", 0)
dots(4, rows_to_pts(d_rows), "rgba(0,0,0,0.55)", 1.5, "GCMC calculated")
poly(4, d_red, "200,20,30", 0.92, "ML predicted", 1.5)
poly(4, d_dark, "70,0,5", 0.3, "ML predicted", 2)
dots(4, d_black_on_red, "rgba(0,0,0,0.55)", 1.8, "GCMC calculated")
dots(4, d_red_dots, "rgba(225,25,35,0.9)", 1.9, "ML predicted")
dots(4, [(7.81,53.4)], "#000000", 9, "MOF-5")

def note(n, x, y, text, size, anchor="center"):
    xa, ya = axes(n)
    return dict(xref=xa, yref=ya, x=x, y=y, text=text, showarrow=False, xanchor=anchor, yanchor="middle",
                font=dict(family=FONT, size=size, color="#1a1a1a"))

anns = [
 note(1, 21.8, 42.1, "ML – PS", 16.5),
 note(1, 7.7, 29.7, "PCN-610/NU-100", 12.5, "left"),
 note(1, 22.7, 36.3, "≥ 7.5 wt.% & 36 g-H<sub>2</sub> L<sup>-1</sup>", 9.5),
 note(2, 23.3, 6, "ML – TPS", 16.5),
 note(2, 0.5, 51.8, "MOF-5", 12.5, "left"),
 note(2, 23.4, 51, "≥ 7.5 wt.% & 48 g-H<sub>2</sub> L<sup>-1</sup>", 9.5),
 note(3, 10.55, 40.25, "ML vs GCMC – PS", 16.5),
 note(3, 10.36, 34.83, "PCN-610/NU-100", 12.5),
 note(4, 10.79, 43.43, "ML vs GCMC – TPS", 16.5),
 note(4, 7.7, 54.38, "MOF-5", 12.5),
]
for name, yv, xv in zip(legend_names_a, legend_y_a, [17.4,17.1,17.3,17.3,17.3]):
    anns.append(note(1, xv, yv, name, 8.8, "left"))
for name, yv in zip(legend_names_c, legend_y_c):
    anns.append(note(3, 7.03, yv, name, 9.4, "left"))
for t, px, py in [("A",11,19),("B",376,17),("C",9,306),("D",376,300)]:
    anns.append(dict(xref="paper", yref="paper", x=px/W, y=1-py/H, text="<b>%s</b>" % t, showarrow=False,
                     font=dict(family="Open Sans", size=15, color="#111111"), xanchor="center", yanchor="middle"))

shapes = [
 dict(type="rect", xref="x", yref="y", x0=7.7, x1=34.3, y0=33.8, y1=39.2, line=dict(color="#858585", width=1.1, dash="4px,2px")),
 dict(type="rect", xref="x2", yref="y2", x0=8, x1=34.4, y0=47.8, y1=54.2, line=dict(color="#858585", width=1.1, dash="4px,2px")),
]
fig.update_layout(width=W, height=H, margin=dict(l=0, r=0, t=0, b=0), paper_bgcolor="white", plot_bgcolor="white",
                  showlegend=False, annotations=anns, shapes=shapes, **layout)
fig.write_html("out.html", config=dict(displayModeBar=False),
               post_script="document.body.style.margin='0';document.body.style.overflow='hidden';")
